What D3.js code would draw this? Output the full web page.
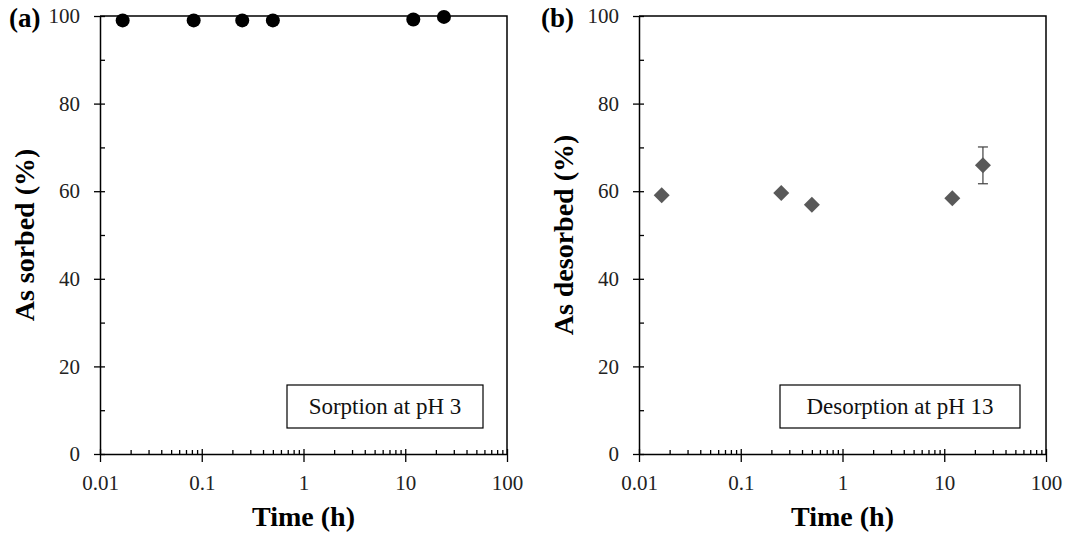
<!DOCTYPE html>
<html>
<head>
<meta charset="utf-8">
<script src="https://cdn.jsdelivr.net/npm/d3@7"></script>
<style>
	body { margin: 0; background: #fff; }
	svg text { font-family: "Liberation Serif", "Times New Roman", serif; }
</style>
</head>
<body>
<div id="wrapper"></div>
<script>

// data
const sorptionTime = [0.0167, 0.0833, 0.25, 0.5, 12, 24];
const sorptionPct = [99.0, 99.0, 99.0, 99.0, 99.2, 99.8];

const desorptionTime = [0.0167, 0.25, 0.5, 12, 24];
const desorptionPct = [59.1, 59.6, 56.9, 58.4, 65.9];
const desorptionErr = [0, 0, 0, 0, 4.2];

const xTickLabels = ["0.01", "0.1", "1", "10", "100"];
const yTickValues = [0, 20, 40, 60, 80, 100];

function drawChart() {

	const width = 1068;
	const height = 537;

	const svg = d3.select("#wrapper")
		.append("svg")
		.attr("width", width)
		.attr("height", height);

	const panels = [
		{
			left: 100, right: 507, tag: "(a)", tagX: 9,
			yLabel: "As sorbed (%)", yLabelX: 34,
			legend: "Sorption at pH 3", legendBox: [287, 483],
			times: sorptionTime, values: sorptionPct, errors: null, marker: "circle"
		},
		{
			left: 639, right: 1046, tag: "(b)", tagX: 541,
			yLabel: "As desorbed (%)", yLabelX: 573,
			legend: "Desorption at pH 13", legendBox: [780, 1020],
			times: desorptionTime, values: desorptionPct, errors: desorptionErr, marker: "diamond"
		}
	];

	const top = 16;
	const bottom = 454;

	panels.forEach(p => {

		const xScale = d3.scaleLog()
			.domain([0.01, 100])
			.range([p.left, p.right]);

		const yScale = d3.scaleLinear()
			.domain([0, 100])
			.range([bottom, top]);

		const g = svg.append("g");

		const majorX = xScale.ticks().filter(t => Math.abs(Math.log10(t) - Math.round(Math.log10(t))) < 1e-9);
		const minorX = xScale.ticks().filter(t => !majorX.includes(t));
		const minorY = [10, 30, 50, 70, 90];

		// frame (top and right)
		g.append("path")
			.attr("d", `M${p.left},${top}H${p.right}V${bottom}`)
			.attr("fill", "none")
			.attr("stroke", "#000")
			.attr("stroke-width", 1.5);

		// y axis
		g.append("g")
			.attr("transform", `translate(${p.left},0)`)
			.call(d3.axisLeft(yScale).tickValues(yTickValues).tickSize(6).tickSizeOuter(0).tickPadding(14));
		g.append("g")
			.attr("transform", `translate(${p.left},0)`)
			.call(d3.axisRight(yScale).tickValues(yTickValues).tickSize(5).tickSizeOuter(0).tickFormat(""))
			.call(a => a.select(".domain").remove());
		g.append("g")
			.attr("transform", `translate(${p.left},0)`)
			.call(d3.axisRight(yScale).tickValues(minorY).tickSize(5).tickSizeOuter(0).tickFormat(""))
			.call(a => a.select(".domain").remove());

		// x axis
		g.append("g")
			.attr("transform", `translate(0,${bottom})`)
			.call(d3.axisBottom(xScale).tickValues(majorX).tickSize(8).tickSizeOuter(0).tickPadding(13)
				.tickFormat((d, i) => xTickLabels[i]));
		g.append("g")
			.attr("transform", `translate(0,${bottom})`)
			.call(d3.axisTop(xScale).tickValues(majorX).tickSize(5).tickSizeOuter(0).tickFormat(""))
			.call(a => a.select(".domain").remove());
		g.append("g")
			.attr("transform", `translate(0,${bottom})`)
			.call(d3.axisTop(xScale).tickValues(minorX).tickSize(4).tickSizeOuter(0).tickFormat(""))
			.call(a => a.select(".domain").remove());

		g.selectAll(".domain").attr("stroke-width", 1.5);
		g.selectAll(".tick line").attr("stroke-width", 1.3);
		g.selectAll(".tick text")
			.attr("font-size", 21)
			.attr("fill", "#222")
			.attr("font-family", "Liberation Serif, serif")
			.style("font-family", "'Liberation Serif', serif");

		// axis titles
		g.append("text")
			.attr("x", (p.left + p.right) / 2)
			.attr("y", 526)
			.attr("text-anchor", "middle")
			.attr("font-size", 28)
			.attr("font-weight", "bold")
			.text("Time (h)");

		g.append("text")
			.attr("transform", `translate(${p.yLabelX},${(top + bottom) / 2}) rotate(-90)`)
			.attr("text-anchor", "middle")
			.attr("font-size", 28)
			.attr("font-weight", "bold")
			.text(p.yLabel);

		// panel tag
		g.append("text")
			.attr("x", p.tagX)
			.attr("y", 27)
			.attr("font-size", 27)
			.attr("font-weight", "bold")
			.text(p.tag);

		// legend box
		g.append("rect")
			.attr("x", p.legendBox[0])
			.attr("y", 385)
			.attr("width", p.legendBox[1] - p.legendBox[0])
			.attr("height", 43)
			.attr("fill", "#fff")
			.attr("stroke", "#000")
			.attr("stroke-width", 1.2);
		g.append("text")
			.attr("x", (p.legendBox[0] + p.legendBox[1]) / 2)
			.attr("y", 414)
			.attr("text-anchor", "middle")
			.attr("font-size", 23)
			.attr("fill", "#111")
			.text(p.legend);

		// data
		const data = p.times.map((t, i) => ({
			t: t, v: p.values[i], e: p.errors ? p.errors[i] : 0
		}));

		const errData = data.filter(d => d.e > 0);
		const eb = g.selectAll(".err")
			.data(errData)
			.join("g")
			.attr("stroke", "#404040")
			.attr("stroke-width", 1.2);
		eb.append("line")
			.attr("x1", d => xScale(d.t)).attr("x2", d => xScale(d.t))
			.attr("y1", d => yScale(d.v - d.e)).attr("y2", d => yScale(d.v + d.e));
		eb.append("line")
			.attr("x1", d => xScale(d.t) - 5).attr("x2", d => xScale(d.t) + 5)
			.attr("y1", d => yScale(d.v + d.e)).attr("y2", d => yScale(d.v + d.e));
		eb.append("line")
			.attr("x1", d => xScale(d.t) - 5).attr("x2", d => xScale(d.t) + 5)
			.attr("y1", d => yScale(d.v - d.e)).attr("y2", d => yScale(d.v - d.e));

		if (p.marker === "circle") {
			g.selectAll(".dot")
				.data(data)
				.join("circle")
				.attr("cx", d => xScale(d.t))
				.attr("cy", d => yScale(d.v))
				.attr("r", 7)
				.attr("fill", "#000");
		} else {
			g.selectAll(".dia")
				.data(data)
				.join("path")
				.attr("d", d => {
					const x = xScale(d.t), y = yScale(d.v), s = 8;
					return `M${x},${y - s}L${x + s},${y}L${x},${y + s}L${x - s},${y}Z`;
				})
				.attr("fill", "#595959");
		}
	});
}

drawChart();
</script>
</body>
</html>
